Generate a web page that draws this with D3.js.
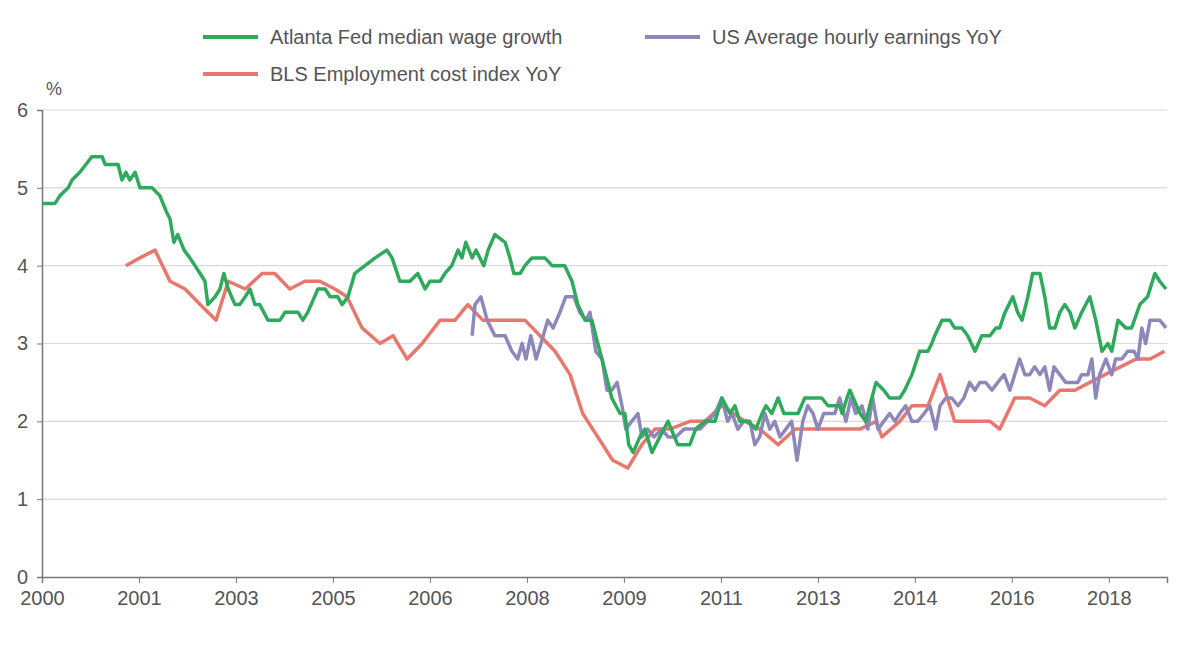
<!DOCTYPE html>
<html><head><meta charset="utf-8">
<script src="https://cdn.jsdelivr.net/npm/d3@7"></script>
<style>body{margin:0;background:#fff}svg text{font-family:"Liberation Sans",Arial,sans-serif;fill:#555}</style>
</head><body><svg id="c" width="1195" height="645"></svg>
<script>
const tickLabels=["2000","2001","2003","2005","2006","2008","2009","2011","2013","2014","2016","2018"];
const tickMonths=[0,20,40,60,80,100,120,140,160,180,200,220];
const yTicks=[0,1,2,3,4,5,6];
const atlM=[0,2.7,3.7,5.4,6.2,7.8,10.3,12.4,13,15.7,16.5,17.3,18.1,19.2,20.2,22.7,24.3,25.6,26.4,27.2,28,29.3,30.5,32.6,33.6,34.2,35.7,36.7,37.5,38.4,39.8,40.8,41.9,42.9,43.9,44.9,46.6,49.1,50.1,52.8,53.8,54.8,56.9,58.4,59.4,61,61.9,63.1,64.5,66.6,68.7,71.1,72.2,73.8,75.9,77.5,79,80,82.1,83.1,84.5,85.8,86.6,87.4,88.7,89.5,91.1,92,93.4,95.5,96.5,97.3,98.6,99.6,101,103.7,105.2,107.8,109.3,110.5,112,113.4,114.2,115.9,117.5,119.2,120.2,121,121.9,123.3,124.3,125.8,127.4,129.1,131.1,133.6,134.8,136.7,138.8,140.2,141.9,142.9,143.9,145.6,147.2,148.5,149.3,150.5,151.8,153,155.9,157.3,160.8,162.1,164.5,165,166,166.6,168.7,169.9,170.7,172,173.6,174.8,176.9,177.9,179.4,181,182.7,183.5,184.1,185.6,187.2,188.2,189.7,190.9,192.4,193.8,195.5,196.7,197.5,198.6,200.2,201.2,202.1,203.3,204.3,205.8,206.8,207.8,208.9,209.9,210.9,212,213,214.4,216.1,217.3,218.6,219.8,220.6,221.9,223.5,224.7,226.4,228,229.5,230.5,231.8];
const atlV=[4.8,4.8,4.9,5.0,5.1,5.2,5.4,5.4,5.3,5.3,5.1,5.2,5.1,5.2,5.0,5.0,4.9,4.7,4.6,4.3,4.4,4.2,4.1,3.9,3.8,3.5,3.6,3.7,3.9,3.7,3.5,3.5,3.6,3.7,3.5,3.5,3.3,3.3,3.4,3.4,3.3,3.4,3.7,3.7,3.6,3.6,3.5,3.6,3.9,4.0,4.1,4.2,4.1,3.8,3.8,3.9,3.7,3.8,3.8,3.9,4.0,4.2,4.1,4.3,4.1,4.2,4.0,4.2,4.4,4.3,4.1,3.9,3.9,4.0,4.1,4.1,4.0,4.0,3.8,3.5,3.3,3.3,3.1,2.7,2.3,2.1,2.1,1.7,1.6,1.8,1.9,1.6,1.8,2.0,1.7,1.7,1.9,2.0,2.0,2.3,2.1,2.2,2.0,2.0,1.9,2.1,2.2,2.1,2.3,2.1,2.1,2.3,2.3,2.2,2.2,2.1,2.3,2.4,2.1,2.0,2.2,2.5,2.4,2.3,2.3,2.4,2.6,2.9,2.9,3.0,3.1,3.3,3.3,3.2,3.2,3.1,2.9,3.1,3.1,3.2,3.2,3.4,3.6,3.4,3.3,3.6,3.9,3.9,3.6,3.2,3.2,3.4,3.5,3.4,3.2,3.4,3.6,3.3,2.9,3.0,2.9,3.3,3.2,3.2,3.5,3.6,3.9,3.8,3.7];
const blsM=[17.3,20.2,23.3,26.4,29.5,32.6,35.9,38.4,41.9,45.4,48,51.1,54.2,57.3,60.4,62.9,66,69.7,72.4,75.3,78.4,82.1,85.2,87.8,90.9,94.4,99.6,102.7,105.8,108.9,111.5,114.6,117.7,120.8,123.7,126.4,129.5,133.6,136.7,140.2,145,148,151.8,155.3,159.4,168.7,172,173.2,176.9,179.4,182.7,185.2,188.2,195.5,197.5,200.6,203.7,206.8,209.9,213,216.1,219.2,222.4,225.6,228.5,231.5];
const blsV=[4.0,4.1,4.2,3.8,3.7,3.5,3.3,3.8,3.7,3.9,3.9,3.7,3.8,3.8,3.7,3.6,3.2,3.0,3.1,2.8,3.0,3.3,3.3,3.5,3.3,3.3,3.3,3.1,2.9,2.6,2.1,1.8,1.5,1.4,1.7,1.9,1.9,2.0,2.0,2.2,2.0,1.9,1.7,1.9,1.9,1.9,2.0,1.8,2.0,2.2,2.2,2.6,2.0,2.0,1.9,2.3,2.3,2.2,2.4,2.4,2.5,2.6,2.7,2.8,2.8,2.9];
const aheM=[88.7,89.3,90.5,91.8,93.4,95.5,96.9,98.1,99,99.8,100.8,101.9,102.9,104.3,105.4,106.8,108,109.7,110.9,112.2,113,114.2,115.5,116.5,117.5,118.6,119.6,120.4,121.6,122.9,123.7,124.9,126.2,127.8,129.1,130.7,132.4,133.6,135.7,137.3,138.8,140.2,141.4,142.3,143.5,144.7,146,147,148,149.1,150.1,151.1,152.2,153.4,154.6,155.7,156.9,157.9,159,160,161.2,162.5,163.5,164.5,165.8,166.8,167.8,169.1,170.3,171.3,172.4,173.6,174.8,175.9,176.9,178.1,179.4,180.6,181.9,183.1,184.3,185.2,186.4,187.6,188.9,190.1,191.3,192.4,193.4,194.6,195.9,197.1,198.4,199.6,200.6,201.6,202.7,203.7,204.7,205.8,206.8,207.8,208.7,209.9,211.1,212.4,213.6,214.4,215.7,216.5,217.3,218.1,219.4,220.6,221.4,222.7,223.9,225.2,226,226.8,227.6,228.5,230.5,231.8];
const aheV=[3.1,3.5,3.6,3.3,3.1,3.1,2.9,2.8,3.0,2.8,3.1,2.8,3.0,3.3,3.2,3.4,3.6,3.6,3.4,3.3,3.4,2.9,2.8,2.4,2.4,2.5,2.2,1.9,2.0,2.1,1.8,1.9,1.8,1.9,1.8,1.8,1.9,1.9,1.9,2.0,2.1,2.3,2.0,2.1,1.9,2.0,2.0,1.7,1.8,2.1,1.9,2.0,1.8,1.9,2.0,1.5,2.0,2.2,2.1,1.9,2.1,2.1,2.1,2.3,2.0,2.3,2.1,2.2,1.9,2.3,1.9,2.0,2.1,2.0,2.1,2.2,2.0,2.0,2.1,2.2,1.9,2.2,2.3,2.3,2.2,2.3,2.5,2.4,2.5,2.5,2.4,2.5,2.6,2.4,2.6,2.8,2.6,2.6,2.7,2.6,2.7,2.4,2.7,2.6,2.5,2.5,2.5,2.6,2.6,2.8,2.3,2.6,2.8,2.6,2.8,2.8,2.9,2.9,2.8,3.2,3.0,3.3,3.3,3.2];
const series=[
 {name:"Atlanta Fed median wage growth",m:atlM,v:atlV,color:"#2fa95c"},
 {name:"BLS Employment cost index YoY",m:blsM,v:blsV,color:"#e8786d"},
 {name:"US Average hourly earnings YoY",m:aheM,v:aheV,color:"#8d88ba"}];
const svg=d3.select("#c");
const x=d3.scaleLinear().domain([0,232]).range([42,1167]);
const y=d3.scaleLinear().domain([0,6]).range([577,110]);
svg.append("g").selectAll("line").data(yTicks.slice(1)).join("line")
 .attr("x1",42).attr("x2",1167).attr("y1",d=>y(d)).attr("y2",d=>y(d)).attr("stroke","#d9d9d9").attr("stroke-width",1.2);
const ya=svg.append("g").attr("transform","translate(42,0)").call(d3.axisLeft(y).tickValues(yTicks).tickSize(5).tickFormat(d3.format("d")));
ya.select(".domain").attr("stroke","#777").attr("stroke-width",1.5);
ya.selectAll(".tick line").attr("stroke","#777");
ya.selectAll("text").attr("x",-14).style("font-size","20px").attr("fill","#555");
const xa=svg.append("g").attr("transform","translate(0,577)").call(d3.axisBottom(x).tickValues(tickMonths).tickSize(6).tickFormat((d,i)=>tickLabels[i]));
xa.select(".domain").attr("stroke","#777").attr("stroke-width",1.5);
xa.selectAll(".tick line").attr("stroke","#777");
xa.selectAll("text").attr("y",14).style("font-size","20px").attr("fill","#555");
svg.append("text").attr("x",46).attr("y",95).text("%").style("font-size","18px");
const line=d3.line().x(d=>x(d[0])).y(d=>y(d[1]));
[series[1],series[2],series[0]].forEach(s=>{
 svg.append("path").datum(s.m.map((m,i)=>[m,s.v[i]])).attr("d",line).attr("fill","none")
  .attr("stroke",s.color).attr("stroke-width",3.5).attr("stroke-linejoin","round");
});
const leg=[[series[0],203,37],[series[2],645,37],[series[1],203,74]];
leg.forEach(([s,lx,ly])=>{
 svg.append("line").attr("x1",lx).attr("x2",lx+55).attr("y1",ly).attr("y2",ly).attr("stroke",s.color).attr("stroke-width",4);
 svg.append("text").attr("x",lx+67).attr("y",ly+7).text(s.name).style("font-size","20px").attr("fill","#444");
});
</script></body></html>
